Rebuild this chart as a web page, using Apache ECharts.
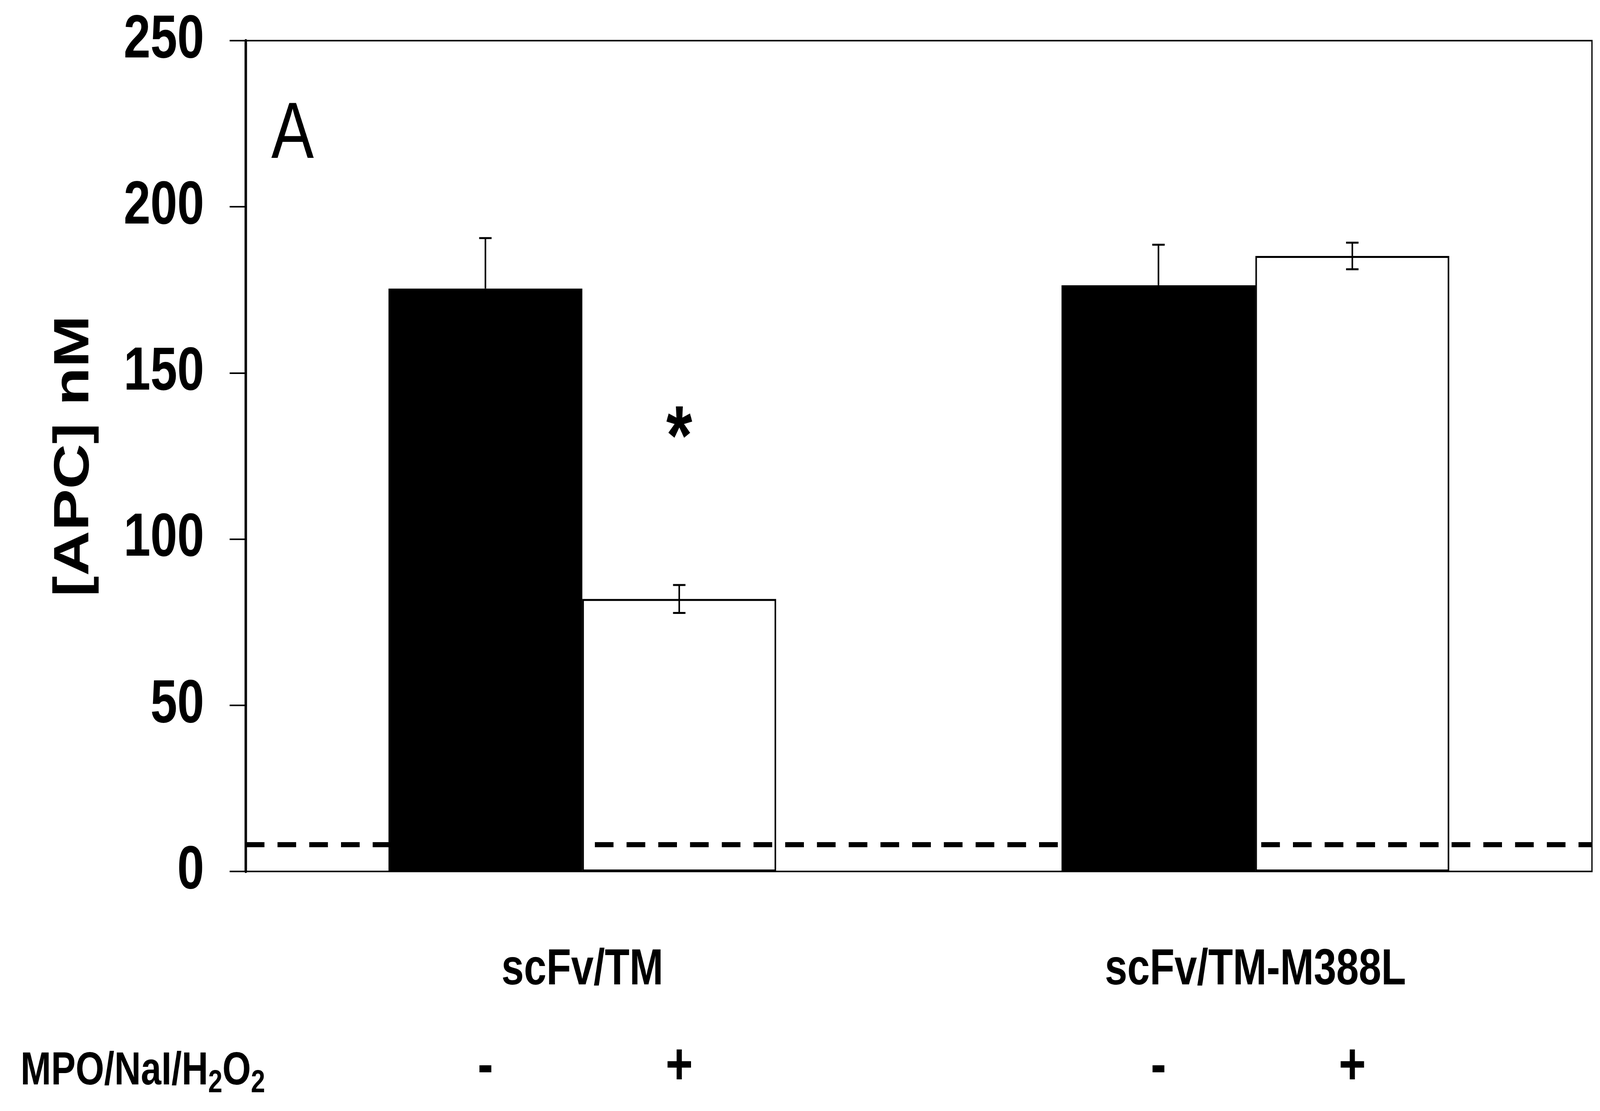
<!DOCTYPE html>
<html>
<head>
<meta charset="utf-8">
<script src="https://cdn.jsdelivr.net/npm/echarts@6/dist/echarts.min.js"></script>
<style>
html,body{margin:0;padding:0;background:#fff;overflow:hidden;}
#c{width:5143px;height:2843px;transform-origin:0 0;}
</style>
</head>
<body>
<div id="c"></div>
<script>
// ---- data ----
var categories = ['scFv/TM', 'scFv/TM-M388L'];
var untreated = [175.4, 176.4];        // MPO/NaI/H2O2 "-"
var treated = [82.0, 185.2];           // MPO/NaI/H2O2 "+"
var untreatedErr = [15.2, 12.2];
var treatedErr = [4.2, 4.0];
var treatmentLabels = ['-', '+'];
var yTicks = [0, 50, 100, 150, 200, 250];
var baselineValue = 8.1;
var significance = [{cat: 0, value: 129.5, text: '*'}];

var FONT = 'Liberation Sans';
var GAP = 0.424;

// fit the 5143x2843 drawing into whatever viewport the browser gives
var el = document.getElementById('c');
var W = window.innerWidth || 5143, H = window.innerHeight || 2843;
el.style.transform = 'scale(' + (W / 5143) + ',' + (H / 2843) + ')';

function errorItem(side) {
  return function (params, api) {
    var ci = api.value(0), v = api.value(1), e = api.value(2), oneSided = api.value(3);
    var band = api.size([1, 0])[0];
    var barW = band * (1 - GAP) / 2;
    var c = api.coord([ci, v]);
    var x = c[0] + side * barW / 2;
    var top = api.coord([ci, v + e])[1];
    var bot = oneSided ? c[1] : api.coord([ci, v - e])[1];
    var cap = 20;
    var style = {stroke: '#000', lineWidth: 5, fill: null};
    var children = [
      {type: 'line', shape: {x1: x, y1: top, x2: x, y2: bot}, style: style},
      {type: 'line', shape: {x1: x - cap, y1: top, x2: x + cap, y2: top}, style: style}
    ];
    if (!oneSided) children.push({type: 'line', shape: {x1: x - cap, y1: bot, x2: x + cap, y2: bot}, style: style});
    return {type: 'group', children: children};
  };
}

function starItem(params, api) {
  var ci = api.value(0), v = api.value(1);
  var band = api.size([1, 0])[0];
  var barW = band * (1 - GAP) / 2;
  var c = api.coord([ci, v]);
  return {
    type: 'text',
    x: c[0] + barW / 2, y: c[1],
    style: {text: significance[params.dataIndex].text, fontFamily: FONT, fontWeight: 'bold', fontSize: 215,
      fill: '#000', align: 'center', verticalAlign: 'middle'}
  };
}

var chart = echarts.init(el, null, {renderer: 'canvas', width: 5143, height: 2843});
chart.setOption({
  backgroundColor: '#fff',
  animation: false,
  grid: {left: 790, right: 26, top: 104, bottom: 613, show: true, borderColor: '#000', borderWidth: 4, backgroundColor: 'transparent'},
  xAxis: {
    type: 'category', data: categories,
    axisLine: {lineStyle: {color: '#000', width: 4}},
    axisTick: {show: false},
    axisLabel: {color: '#000', fontFamily: FONT, fontWeight: 'bold', fontSize: 130, margin: 188}
  },
  yAxis: {
    type: 'value', min: 0, max: 250, interval: 50,
    name: '[APC] nM', nameLocation: 'middle', nameGap: 470,
    nameTextStyle: {color: '#000', fontFamily: FONT, fontWeight: 'bold', fontSize: 160},
    axisLine: {show: true, lineStyle: {color: '#000', width: 8}},
    axisTick: {show: true, inside: false, length: 52, lineStyle: {color: '#000', width: 4}},
    splitLine: {show: false},
    axisLabel: {color: '#000', fontFamily: FONT, fontWeight: 'bold', fontSize: 155, margin: 134,
      formatter: function (v) { return yTicks.indexOf(v) >= 0 ? String(v) : ''; }}
  },
  series: [
    {
      type: 'bar', name: '-', data: untreated, barGap: '0%', barCategoryGap: (GAP * 100) + '%',
      itemStyle: {color: '#000', borderColor: '#000', borderWidth: 5},
      label: {show: true, position: 'bottom', distance: 428, formatter: treatmentLabels[0],
        color: '#000', fontFamily: FONT, fontWeight: 'bold', fontSize: 150}
    },
    {
      type: 'bar', name: '+', data: treated,
      itemStyle: {color: 'rgba(255,255,255,0)', borderColor: '#000', borderWidth: 5},
      label: {show: true, position: 'bottom', distance: 428, formatter: treatmentLabels[1],
        color: '#000', fontFamily: FONT, fontWeight: 'bold', fontSize: 150},
      markLine: {
        silent: true, symbol: 'none', label: {show: false},
        lineStyle: {color: '#000', width: 13, type: [60, 42]},
        data: [{yAxis: baselineValue}]
      }
    },
    {
      type: 'custom', renderItem: errorItem(-1), z: 5,
      data: untreated.map(function (v, i) { return [i, v, untreatedErr[i], 1]; })
    },
    {
      type: 'custom', renderItem: errorItem(1), z: 5,
      data: treated.map(function (v, i) { return [i, v, treatedErr[i], 0]; })
    },
    {
      type: 'custom', renderItem: starItem, z: 5,
      data: significance.map(function (s) { return [s.cat, s.value]; })
    }
  ],
  graphic: [
    {type: 'text', left: 872, top: 245, style: {text: 'A', fontFamily: FONT, fontSize: 205, fill: '#000'}},
    {type: 'text', x: 66, y: 2742, style: {
      text: '{m|MPO/NaI/H}{s|2}{m|O}{s|2}', verticalAlign: 'middle', align: 'left',
      rich: {
        m: {fontFamily: FONT, fontWeight: 'bold', fontSize: 118, fill: '#000', verticalAlign: 'middle'},
        s: {fontFamily: FONT, fontWeight: 'bold', fontSize: 82, fill: '#000', padding: [60, 0, 0, 0]}
      }}}
  ]
});
</script>
</body>
</html>
